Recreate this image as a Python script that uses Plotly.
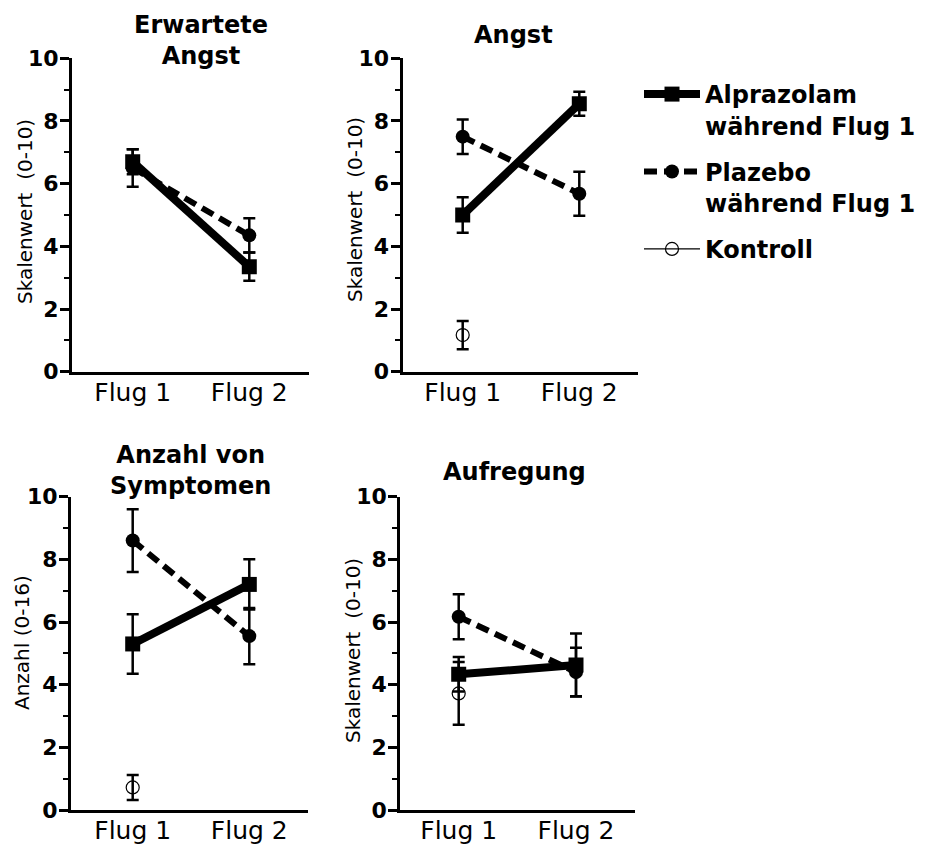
import plotly.graph_objects as go

W, H = 931, 852
OFF_X = 7  # page body margin offset
OFF_Y = 8

flights = ["Flug 1", "Flug 2"]
ytick_vals = [0, 2, 4, 6, 8, 10]
ytick_text = ["0", "2", "4", "6", "8", "10"]

# Panel 1: Erwartete Angst
p1_alpra = [6.7, 3.35]
p1_alpra_err = [0.4, 0.45]
p1_plac = [6.5, 4.35]
p1_plac_err = [0.6, 0.55]

# Panel 2: Angst
p2_alpra = [5.0, 8.55]
p2_alpra_err = [0.57, 0.38]
p2_plac = [7.5, 5.68]
p2_plac_err = [0.55, 0.7]
p2_kontr = [1.17]
p2_kontr_err = [0.45]

# Panel 3: Anzahl von Symptomen
p3_alpra = [5.3, 7.2]
p3_alpra_err = [0.95, 0.8]
p3_plac = [8.6, 5.55]
p3_plac_err = [1.0, 0.9]
p3_kontr = [0.72]
p3_kontr_err = [0.4]

# Panel 4: Aufregung
p4_alpra = [4.33, 4.63]
p4_alpra_err = [0.55, 1.0]
p4_plac = [6.17, 4.4]
p4_plac_err = [0.72, 0.78]
p4_kontr = [3.72]
p4_kontr_err = [1.0]

titles = ["<b>Erwartete<br>Angst</b>", "<b>Angst</b>", "<b>Anzahl von<br>Symptomen</b>", "<b>Aufregung</b>"]
ytitles = ["Skalenwert  (0-10)", "Skalenwert  (0-10)", "Anzahl (0-16)", "Skalenwert  (0-10)"]
legend_names = ["Alprazolam<br>während Flug 1", "Plazebo<br>während Flug 1", "Kontroll"]

FONT = "DejaVu Sans"


def px(x):
    return (x - OFF_X) / W


def py(y):
    return 1 - (y - OFF_Y) / H


# pixel geometry of each panel: (x_left, x_right, y_top, y_bottom, flug1_px, flug2_px)
geom = [
    (71, 308, 58.3, 371.7, 131.7, 248.3),
    (401.5, 637, 58.3, 371.7, 461.7, 578.3),
    (70, 307, 496.7, 810, 131.7, 248.3),
    (399.3, 634, 496.7, 810, 457.7, 575),
]

panels = [
    (p1_alpra, p1_alpra_err, p1_plac, p1_plac_err, None, None),
    (p2_alpra, p2_alpra_err, p2_plac, p2_plac_err, p2_kontr, p2_kontr_err),
    (p3_alpra, p3_alpra_err, p3_plac, p3_plac_err, p3_kontr, p3_kontr_err),
    (p4_alpra, p4_alpra_err, p4_plac, p4_plac_err, p4_kontr, p4_kontr_err),
]

fig = go.Figure()


def err(arr):
    return dict(type="data", array=arr, visible=True, color="black", thickness=2.5, width=6)


kontroll_legend_done = False
for i, (a, ae, p, pe, k, ke) in enumerate(panels):
    xa = "x" if i == 0 else f"x{i+1}"
    ya = "y" if i == 0 else f"y{i+1}"
    if k is not None:
        show = not kontroll_legend_done
        kontroll_legend_done = True
        fig.add_trace(go.Scatter(
            x=flights[:1], y=k, error_y=err(ke), mode="lines+markers",
            line=dict(color="black", width=1.2),
            marker=dict(symbol="circle-open", size=13, color="black", line=dict(width=1.2)),
            name=legend_names[2], legendgroup="k", showlegend=show, legendrank=3,
            xaxis=xa, yaxis=ya))
    fig.add_trace(go.Scatter(
        x=flights, y=p, error_y=err(pe), mode="lines+markers",
        line=dict(color="black", width=6, dash="13px,7px"),
        marker=dict(symbol="circle", size=14, color="black"),
        name=legend_names[1], legendgroup="p", showlegend=(i == 0), legendrank=2,
        xaxis=xa, yaxis=ya))
    fig.add_trace(go.Scatter(
        x=flights, y=a, error_y=err(ae), mode="lines+markers",
        line=dict(color="black", width=8),
        marker=dict(symbol="square", size=15, color="black"),
        name=legend_names[0], legendgroup="a", showlegend=(i == 0), legendrank=1,
        xaxis=xa, yaxis=ya))

layout = dict(
    template="none",
    width=W, height=H,
    margin=dict(l=0, r=0, t=0, b=0, autoexpand=False),
    paper_bgcolor="white", plot_bgcolor="white",
    font=dict(family=FONT, color="black"),
    showlegend=True,
    legend=dict(x=px(638), y=py(72), xanchor="left", yanchor="top",
                font=dict(family=FONT, size=24, color="black", weight="bold"),
                valign="top", itemwidth=56, bgcolor="rgba(0,0,0,0)",
                traceorder="grouped", tracegroupgap=12),
)

annotations = []
for i, (xl, xr, yt, yb, f1, f2) in enumerate(geom):
    n = "" if i == 0 else str(i + 1)
    unit = f2 - f1
    x0 = 0 - (f1 - xl) / unit
    x1 = 1 + (xr - f2) / unit
    layout[f"xaxis{n}"] = dict(
        domain=[px(xl), px(xr)], anchor=f"y{n}", type="category",
        categoryorder="array", categoryarray=flights, automargin=False,
        range=[x0, x1], showline=True, linecolor="black", linewidth=3,
        ticks="", showgrid=False, zeroline=False,
        tickvals=flights, ticktext=flights, ticklabelstandoff=-4,
        tickfont=dict(family=FONT, size=25, color="black"),
    )
    layout[f"yaxis{n}"] = dict(
        domain=[py(yb), py(yt)], anchor=f"x{n}", automargin=False,
        range=[0, 10], showline=True, linecolor="black", linewidth=3,
        ticks="outside", ticklen=9, tickwidth=2.5, tickcolor="black",
        tickvals=ytick_vals, ticktext=ytick_text, ticklabelstandoff=-3,
        minor=dict(tickvals=[1, 3, 5, 7, 9], ticks="outside", ticklen=5, tickwidth=1.5, tickcolor="black"),
        showgrid=False, zeroline=False,
        tickfont=dict(family=FONT, size=22, color="black", weight="bold"),
    )

title_pos = [(200, 40.5), (512, 35), (189, 470.5), (513, 472)]
ytitle_pos = [(24, 212), (354, 210), (21, 643), (352, 651)]
for i in range(4):
    tx, ty = title_pos[i]
    annotations.append(dict(text=titles[i], x=px(tx), y=py(ty), xref="paper", yref="paper",
                            xanchor="center", yanchor="middle", showarrow=False,
                            font=dict(family=FONT, size=24, color="black")))
    yx, yy = ytitle_pos[i]
    annotations.append(dict(text=ytitles[i], x=px(yx), y=py(yy), xref="paper", yref="paper",
                            xanchor="center", yanchor="middle", showarrow=False, textangle=-90,
                            font=dict(family=FONT, size=20, color="black")))
layout["annotations"] = annotations

fig.update_layout(**layout)
fig.write_html("out.html")
